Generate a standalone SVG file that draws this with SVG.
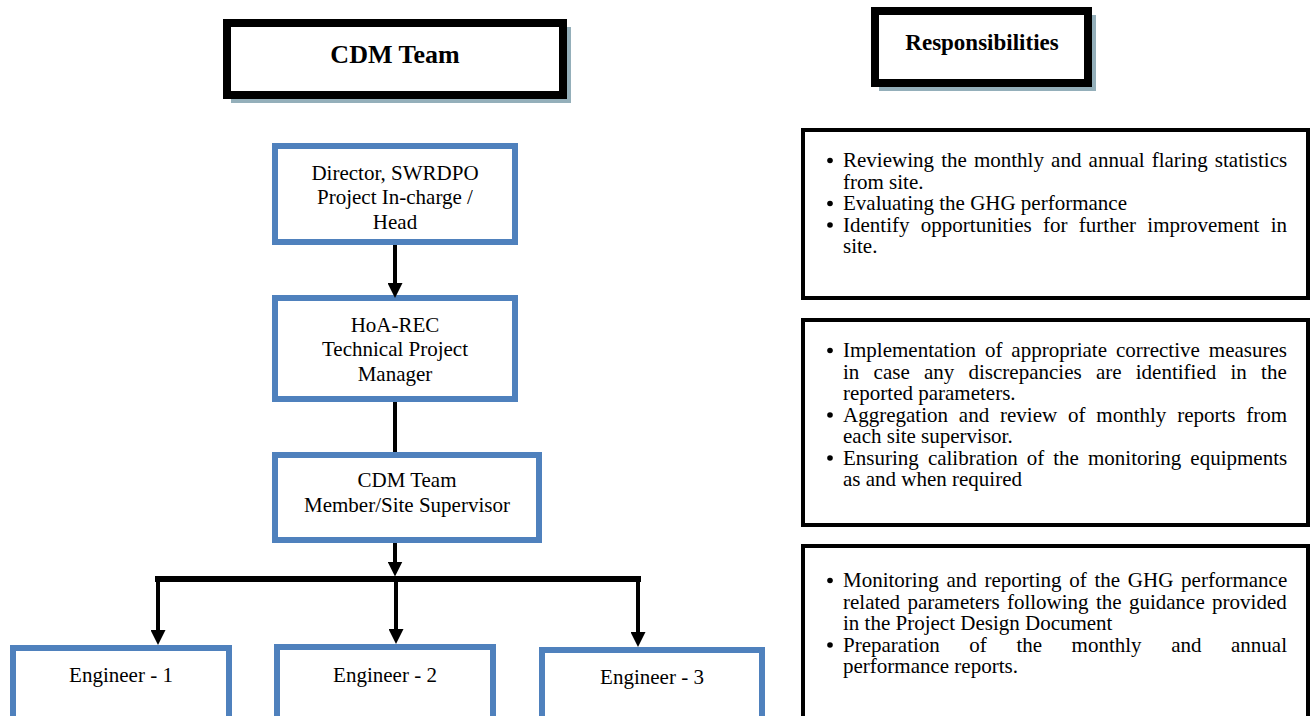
<svg xmlns="http://www.w3.org/2000/svg" width="1313" height="716" viewBox="0 0 1313 716">
<style>
.hdr{fill:#fff;stroke:#000;stroke-width:8}
.shd{fill:#94AFBA}
.ht{font-family:"Liberation Serif","Times New Roman",serif;font-weight:bold;text-anchor:middle;fill:#000}
.bn{fill:#fff;stroke:#4F81BD;stroke-width:6}
.bt{font-family:"Liberation Serif","Times New Roman",serif;font-size:21px;text-anchor:middle;fill:#000}
.rb{fill:#fff;stroke:#000;stroke-width:4}
.rt{font-family:"Liberation Serif","Times New Roman",serif;font-size:21px;fill:#000}
.con{stroke:#000;stroke-width:4;fill:none}
.bar{stroke:#000;stroke-width:6;fill:none}
</style>
<defs>
<marker id="ah" viewBox="0 0 10 10" refX="3" refY="5" markerWidth="15" markerHeight="15" markerUnits="userSpaceOnUse" orient="auto">
<path d="M0,0 L10,5 L0,10 z" fill="#000"/>
</marker>
</defs>
<rect width="1313" height="716" fill="#fff"/>

<g id="hdr-cdm">
<rect class="shd" x="231" y="27" width="340" height="76"/>
<rect class="hdr" x="227" y="23" width="336" height="72"/>
<text class="ht" x="395" y="63" font-size="26">CDM Team</text>
</g>
<g id="hdr-resp">
<rect class="shd" x="879" y="15" width="217" height="76"/>
<rect class="hdr" x="875" y="11" width="213" height="72"/>
<text class="ht" x="982" y="50" font-size="23">Responsibilities</text>
</g>

<g id="director">
<rect class="bn" x="275" y="146" width="240" height="96"/>
<text class="bt" x="395" y="180">Director, SWRDPO</text>
<text class="bt" x="395" y="204">Project In-charge /</text>
<text class="bt" x="395" y="229">Head</text>
</g>
<g id="hoa">
<rect class="bn" x="275" y="298" width="240" height="101"/>
<text class="bt" x="395" y="332">HoA-REC</text>
<text class="bt" x="395" y="356">Technical Project</text>
<text class="bt" x="395" y="381">Manager</text>
</g>
<g id="cdm-member">
<rect class="bn" x="275" y="455" width="264" height="85"/>
<text class="bt" x="407" y="487">CDM Team</text>
<text class="bt" x="407" y="512">Member/Site Supervisor</text>
</g>
<g id="eng1">
<rect class="bn" x="13" y="648" width="216" height="100"/>
<text class="bt" x="121" y="682">Engineer - 1</text>
</g>
<g id="eng2">
<rect class="bn" x="277" y="647" width="216" height="100"/>
<text class="bt" x="385" y="682">Engineer - 2</text>
</g>
<g id="eng3">
<rect class="bn" x="542" y="650" width="220" height="100"/>
<text class="bt" x="652" y="684">Engineer - 3</text>
</g>

<g id="connectors">
<line class="con" x1="395" y1="245" x2="395" y2="287.5" marker-end="url(#ah)"/>
<line class="con" x1="395" y1="402" x2="395" y2="452"/>
<line class="con" x1="395" y1="543" x2="395" y2="566" marker-end="url(#ah)"/>
<line class="bar" x1="155" y1="579" x2="641" y2="579"/>
<line class="con" x1="158" y1="579" x2="158" y2="634.5" marker-end="url(#ah)"/>
<line class="con" x1="396" y1="579" x2="396" y2="633.5" marker-end="url(#ah)"/>
<line class="con" x1="638" y1="579" x2="638" y2="636.5" marker-end="url(#ah)"/>
</g>

<g id="resp1">
<rect class="rb" x="803" y="130" width="505" height="168"/>
<circle cx="830" cy="160.5" r="2.8"/>
<circle cx="830" cy="203.5" r="2.8"/>
<circle cx="830" cy="225" r="2.8"/>
<text class="rt" x="843" y="167" word-spacing="1.9">Reviewing the monthly and annual flaring statistics</text>
<text class="rt" x="843" y="188.5">from site.</text>
<text class="rt" x="843" y="210">Evaluating the GHG performance</text>
<text class="rt" x="843" y="231.5" word-spacing="6.1">Identify opportunities for further improvement in</text>
<text class="rt" x="843" y="253">site.</text>
</g>
<g id="resp2">
<rect class="rb" x="803" y="320" width="505" height="205"/>
<circle cx="830" cy="350.5" r="2.8"/>
<circle cx="830" cy="415" r="2.8"/>
<circle cx="830" cy="458" r="2.8"/>
<text class="rt" x="843" y="357" word-spacing="3.7">Implementation of appropriate corrective measures</text>
<text class="rt" x="843" y="378.5" word-spacing="9.0">in case any discrepancies are identified in the</text>
<text class="rt" x="843" y="400">reported parameters.</text>
<text class="rt" x="843" y="421.5" word-spacing="5.6">Aggregation and review of monthly reports from</text>
<text class="rt" x="843" y="443">each site supervisor.</text>
<text class="rt" x="843" y="464.5" word-spacing="3.8">Ensuring calibration of the monitoring equipments</text>
<text class="rt" x="843" y="486">as and when required</text>
</g>
<g id="resp3">
<rect class="rb" x="803" y="546" width="505" height="200"/>
<circle cx="830" cy="580.5" r="2.8"/>
<circle cx="830" cy="645" r="2.8"/>
<text class="rt" x="843" y="587" word-spacing="2.5">Monitoring and reporting of the GHG performance</text>
<text class="rt" x="843" y="608.5" word-spacing="2.1">related parameters following the guidance provided</text>
<text class="rt" x="843" y="630">in the Project Design Document</text>
<text class="rt" x="843" y="651.5" word-spacing="24.3">Preparation of the monthly and annual</text>
<text class="rt" x="843" y="673">performance reports.</text>
</g>
</svg>
